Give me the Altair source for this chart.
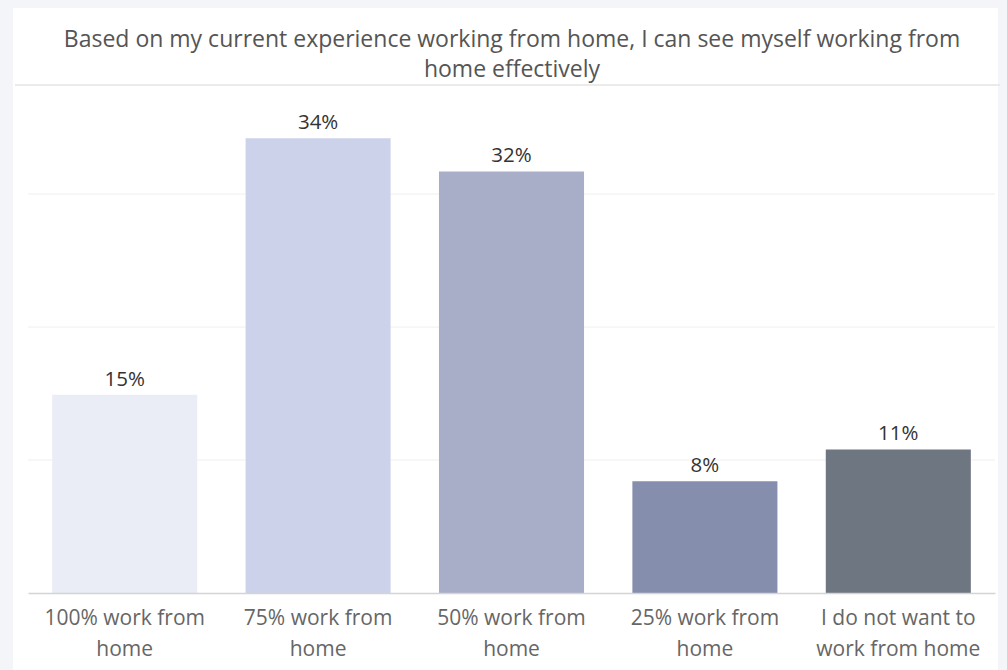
import altair as alt
import pandas as pd

categories = ["100% work from\nhome", "75% work from\nhome", "50% work from\nhome",
              "25% work from\nhome", "I do not want to\nwork from home"]
values = [14.9, 34.2, 31.7, 8.4, 10.8]
colors = ["#eaedf6", "#cdd2eb", "#a8aec8", "#858eac", "#6e7681"]
grid_values = [10, 20, 30]
title_lines = ["Based on my current experience working from home, I can see myself working from",
               "home effectively"]

df = pd.DataFrame({"cat": categories, "val": values, "label": [f"{round(v)}%" for v in values]})
grid_df = pd.DataFrame({"g": grid_values})
title_df = pd.DataFrame({"t": [0]})

FONT = "Open Sans"

x = alt.X("cat:N", sort=categories, title=None,
          scale=alt.Scale(paddingInner=0.25, paddingOuter=0.125),
          axis=alt.Axis(labelExpr="split(datum.label, '\\n')", labelAngle=0, labelFontSize=21,
                        labelColor="#666666", labelFont=FONT, labelLineHeight=31,
                        labelPadding=14, labelBaseline="top", ticks=False, zindex=1,
                        domainColor="#d4d4d4", domainWidth=1.5))
yscale = alt.Scale(domain=[0, 38.2], nice=False)

panel = alt.Chart(title_df).mark_rect(color="white").encode(
    x=alt.value(-15), x2=alt.value(970), y=alt.value(-77), y2=alt.value(600))

sep = alt.Chart(title_df).mark_rule(color="#e4e4e4", strokeWidth=1.5).encode(
    x=alt.value(-13), x2=alt.value(972), y=alt.value(0))

title = alt.Chart(title_df).mark_text(
    fontSize=23, font=FONT, color="#555555", lineHeight=30, baseline="top", align="center"
).encode(x=alt.value(484), y=alt.value(-56), text=alt.value(title_lines))

grid = alt.Chart(grid_df).mark_rule(color="#efefef", strokeWidth=1).encode(
    y=alt.Y("g:Q", scale=yscale, axis=None), x=alt.value(0), x2=alt.value(967))

bars = alt.Chart(df).mark_bar().encode(
    x=x, y=alt.Y("val:Q", scale=yscale, axis=None),
    color=alt.Color("cat:N", sort=categories, scale=alt.Scale(domain=categories, range=colors), legend=None))

labels = alt.Chart(df).mark_text(baseline="bottom", dy=-5, fontSize=20.5, color="#333333", font=FONT).encode(
    x=alt.X("cat:N", sort=categories), y=alt.Y("val:Q", scale=yscale), text="label:N")

chart = alt.layer(panel, sep, title, grid, bars, labels).properties(
    width=967, height=508,
    autosize=alt.AutoSizeParams(type="none"),
    padding={"left": 28, "top": 85, "right": 12, "bottom": 77},
    background="#f4f5f9",
).configure_view(stroke=None)

chart.save("out.html", embed_options={"renderer": "svg", "actions": False})
